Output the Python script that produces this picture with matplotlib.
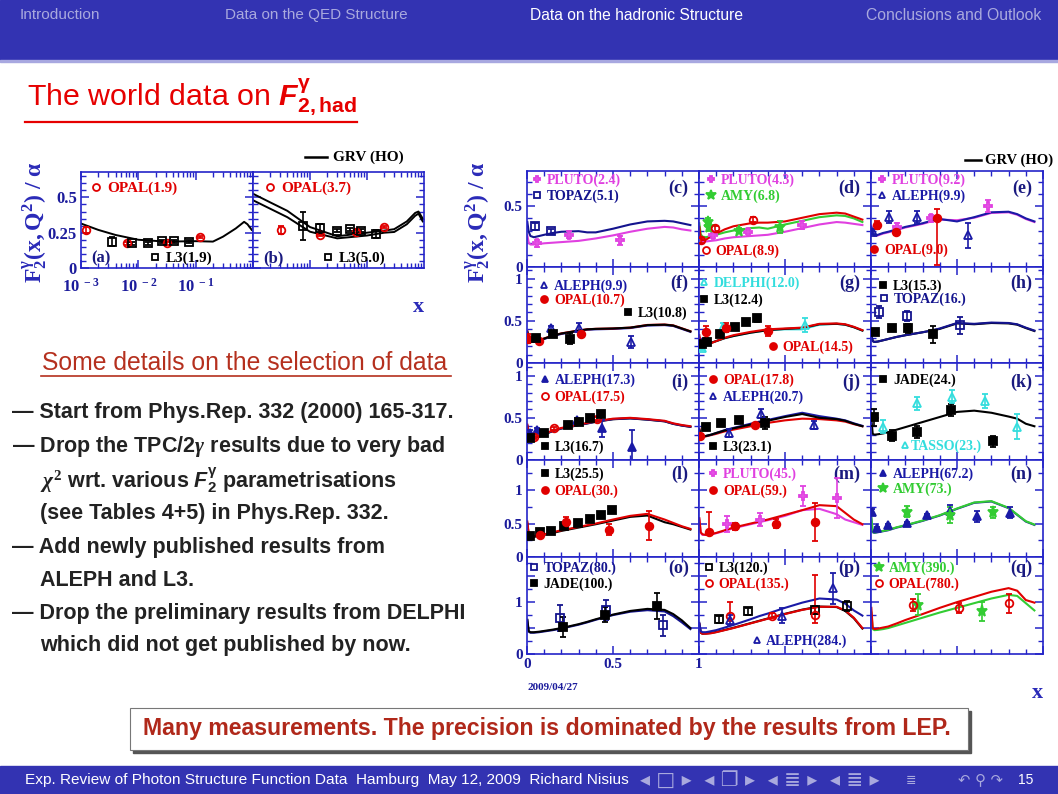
import matplotlib
matplotlib.use("Agg")
import matplotlib.pyplot as plt
from matplotlib.lines import Line2D
from matplotlib.legend import Legend
from matplotlib.patches import Rectangle
from matplotlib.ticker import FixedLocator, MultipleLocator, NullFormatter, FuncFormatter, LogLocator
from matplotlib import font_manager

# ====================== DATA ======================
# common x grid of the GRV(HO) curves (linear panels c..q)
XG = [0.002, 0.01, 0.02, 0.04, 0.07, 0.1, 0.15, 0.2, 0.3, 0.35, 0.4, 0.5, 0.6, 0.7, 0.8, 0.85, 0.9, 0.95]
# x grid of the GRV(HO) curves in the log panels a, b
XL = [0.001, 0.002, 0.004, 0.01, 0.03, 0.1, 0.2, 0.3, 0.5, 0.7, 0.8, 0.95]

A_GRV = [0.315, 0.27, 0.234, 0.20, 0.187, 0.19, 0.187, 0.222, 0.28, 0.327, 0.31, 0.27]
B_GRV_37 = [0.526, 0.465, 0.405, 0.29, 0.225, 0.25, 0.265, 0.275, 0.33, 0.39, 0.40, 0.35]
B_GRV_50 = [0.48, 0.42, 0.36, 0.257, 0.21, 0.23, 0.25, 0.255, 0.31, 0.37, 0.385, 0.33]

C_PLUTO_GRV = [0.26, 0.2, 0.185, 0.185, 0.19, 0.195, 0.2, 0.205, 0.215, 0.225, 0.235, 0.26, 0.29, 0.315, 0.33, 0.325, 0.31, 0.30]
C_TOPAZ_GRV = [0.37, 0.29, 0.255, 0.245, 0.255, 0.265, 0.28, 0.29, 0.295, 0.285, 0.285, 0.315, 0.35, 0.375, 0.38, 0.375, 0.36, 0.345]
D_PLUTO_GRV = [0.30, 0.23, 0.21, 0.21, 0.215, 0.22, 0.235, 0.245, 0.255, 0.26, 0.265, 0.29, 0.32, 0.35, 0.37, 0.365, 0.355, 0.345]
D_AMY_GRV = [0.36, 0.27, 0.25, 0.245, 0.255, 0.265, 0.285, 0.30, 0.32, 0.325, 0.315, 0.35, 0.38, 0.41, 0.425, 0.42, 0.40, 0.37]
D_OPAL_GRV = [0.33, 0.24, 0.22, 0.225, 0.25, 0.275, 0.31, 0.335, 0.36, 0.365, 0.365, 0.375, 0.405, 0.435, 0.447, 0.44, 0.415, 0.39]
E_PLUTO_GRV = [0.34, 0.27, 0.255, 0.26, 0.275, 0.285, 0.305, 0.325, 0.355, 0.375, 0.39, 0.385, 0.405, 0.445, 0.45, 0.43, 0.395, 0.37]
E_ALEPH_GRV = [0.33, 0.27, 0.26, 0.265, 0.28, 0.29, 0.31, 0.33, 0.36, 0.38, 0.395, 0.375, 0.41, 0.45, 0.455, 0.435, 0.40, 0.375]
F_ALEPH_GRV = [0.36, 0.275, 0.255, 0.25, 0.265, 0.285, 0.32, 0.345, 0.38, 0.395, 0.40, 0.405, 0.415, 0.445, 0.45, 0.44, 0.405, 0.37]
F_OPAL_GRV = [0.38, 0.285, 0.262, 0.258, 0.272, 0.292, 0.326, 0.352, 0.386, 0.40, 0.406, 0.41, 0.42, 0.452, 0.457, 0.447, 0.412, 0.377]
F_L3_GRV = [0.37, 0.28, 0.26, 0.255, 0.27, 0.29, 0.325, 0.35, 0.385, 0.40, 0.405, 0.41, 0.42, 0.45, 0.455, 0.445, 0.41, 0.375]
G_DELPHI_GRV = [0.30, 0.22, 0.21, 0.22, 0.24, 0.26, 0.295, 0.32, 0.36, 0.375, 0.39, 0.40, 0.40, 0.455, 0.465, 0.455, 0.425, 0.385]
G_L3_GRV = [0.30, 0.22, 0.21, 0.22, 0.24, 0.26, 0.295, 0.32, 0.36, 0.375, 0.39, 0.405, 0.415, 0.46, 0.465, 0.455, 0.425, 0.385]
G_OPAL_GRV = [0.33, 0.22, 0.20, 0.21, 0.235, 0.26, 0.30, 0.33, 0.37, 0.385, 0.40, 0.41, 0.42, 0.465, 0.47, 0.46, 0.43, 0.39]
H_L3_GRV = [0.33, 0.26, 0.25, 0.255, 0.27, 0.285, 0.31, 0.33, 0.365, 0.385, 0.405, 0.47, 0.46, 0.475, 0.47, 0.455, 0.415, 0.38]
H_TOPAZ_GRV = [0.33, 0.26, 0.25, 0.255, 0.27, 0.285, 0.31, 0.33, 0.365, 0.385, 0.41, 0.475, 0.465, 0.48, 0.475, 0.46, 0.42, 0.385]
I_L3_GRV = [0.40, 0.29, 0.262, 0.258, 0.278, 0.303, 0.343, 0.373, 0.413, 0.433, 0.453, 0.483, 0.493, 0.478, 0.458, 0.428, 0.408, 0.393]
I_ALEPH_GRV = [0.41, 0.295, 0.265, 0.26, 0.28, 0.305, 0.345, 0.375, 0.415, 0.435, 0.455, 0.485, 0.495, 0.48, 0.46, 0.43, 0.41, 0.395]
I_OPAL_GRV = [0.42, 0.30, 0.27, 0.265, 0.285, 0.31, 0.35, 0.38, 0.42, 0.44, 0.46, 0.49, 0.50, 0.485, 0.465, 0.435, 0.415, 0.40]
J_OPAL_GRV = [0.37, 0.29, 0.275, 0.28, 0.295, 0.31, 0.34, 0.36, 0.40, 0.42, 0.44, 0.47, 0.49, 0.485, 0.47, 0.455, 0.425, 0.40]
J_ALEPH_GRV = [0.35, 0.285, 0.275, 0.285, 0.30, 0.32, 0.355, 0.38, 0.43, 0.455, 0.475, 0.52, 0.56, 0.52, 0.49, 0.47, 0.435, 0.405]
J_L3_GRV = [0.36, 0.29, 0.28, 0.285, 0.30, 0.32, 0.35, 0.375, 0.42, 0.445, 0.465, 0.51, 0.545, 0.50, 0.485, 0.465, 0.43, 0.40]
K_JADE_GRV = [0.49, 0.31, 0.30, 0.305, 0.315, 0.33, 0.36, 0.39, 0.45, 0.48, 0.51, 0.57, 0.585, 0.56, 0.515, 0.49, 0.43, 0.40]
L_L3_GRV = [0.50, 0.33, 0.30, 0.30, 0.315, 0.33, 0.36, 0.39, 0.44, 0.465, 0.49, 0.545, 0.60, 0.62, 0.52, 0.49, 0.45, 0.41]
L_OPAL_GRV = [0.53, 0.34, 0.31, 0.31, 0.325, 0.34, 0.37, 0.40, 0.45, 0.475, 0.50, 0.56, 0.615, 0.645, 0.56, 0.51, 0.46, 0.42]
M_PLUTO_GRV = [0.56, 0.36, 0.33, 0.33, 0.34, 0.355, 0.39, 0.43, 0.49, 0.52, 0.55, 0.615, 0.70, 0.72, 0.64, 0.56, 0.52, 0.48]
M_OPAL_GRV = [0.58, 0.37, 0.34, 0.33, 0.34, 0.36, 0.40, 0.44, 0.50, 0.53, 0.56, 0.63, 0.70, 0.775, 0.76, 0.66, 0.56, 0.49]
N_ALEPH_GRV = [0.58, 0.37, 0.36, 0.37, 0.385, 0.40, 0.44, 0.47, 0.54, 0.58, 0.62, 0.72, 0.81, 0.83, 0.73, 0.63, 0.53, 0.48]
N_AMY_GRV = [0.585, 0.375, 0.365, 0.375, 0.39, 0.405, 0.445, 0.475, 0.545, 0.585, 0.625, 0.725, 0.815, 0.835, 0.735, 0.635, 0.535, 0.485]
O_TOPAZ_GRV = [0.65, 0.43, 0.41, 0.41, 0.42, 0.435, 0.46, 0.49, 0.565, 0.61, 0.66, 0.75, 0.815, 0.845, 0.82, 0.73, 0.61, 0.48]
O_JADE_GRV = [0.66, 0.44, 0.42, 0.42, 0.43, 0.445, 0.47, 0.50, 0.575, 0.62, 0.67, 0.76, 0.83, 0.87, 0.85, 0.77, 0.65, 0.50]
P_ALEPH_GRV = [0.60, 0.44, 0.42, 0.42, 0.44, 0.46, 0.51, 0.56, 0.67, 0.73, 0.78, 0.89, 0.99, 1.07, 1.05, 0.97, 0.84, 0.74]
P_L3_GRV = [0.58, 0.41, 0.39, 0.395, 0.405, 0.425, 0.465, 0.505, 0.595, 0.64, 0.685, 0.775, 0.855, 0.915, 0.905, 0.83, 0.69, 0.49]
P_OPAL_GRV = [0.58, 0.41, 0.39, 0.39, 0.40, 0.42, 0.46, 0.50, 0.59, 0.635, 0.68, 0.77, 0.85, 0.91, 0.91, 0.84, 0.70, 0.50]
Q_AMY_GRV = [0.80, 0.48, 0.46, 0.465, 0.48, 0.50, 0.55, 0.60, 0.70, 0.75, 0.80, 0.89, 0.98, 1.07, 1.14, 1.12, 0.98, 0.84]
Q_OPAL_GRV = [0.89, 0.50, 0.48, 0.49, 0.51, 0.53, 0.59, 0.655, 0.77, 0.83, 0.89, 1.0, 1.10, 1.20, 1.27, 1.22, 1.04, 0.99]

# measurements: (x, F2/alpha, err_low, err_high)
A_OPAL = [(0.0012, 0.27, 0.02, 0.02), (0.0063, 0.175, 0.01, 0.01), (0.032, 0.175, 0.01, 0.01), (0.12, 0.22, 0.01, 0.01)]
A_L3 = [(0.0035, 0.187, 0.03, 0.03), (0.0077, 0.175, 0.01, 0.01), (0.015, 0.175, 0.01, 0.01), (0.026, 0.19, 0.01, 0.01), (0.042, 0.19, 0.01, 0.01), (0.076, 0.187, 0.01, 0.01)]
B_OPAL = [(0.0031, 0.27, 0.03, 0.03), (0.0147, 0.234, 0.01, 0.01), (0.065, 0.257, 0.01, 0.01), (0.2, 0.29, 0.01, 0.01)]
B_L3 = [(0.0075, 0.30, 0.1, 0.1), (0.0147, 0.28, 0.03, 0.03), (0.03, 0.265, 0.01, 0.01), (0.05, 0.273, 0.01, 0.01), (0.08, 0.265, 0.01, 0.01), (0.145, 0.24, 0.03, 0.03)]

C_PLUTO = [(0.06, 0.195, 0.03, 0.03), (0.242, 0.265, 0.03, 0.03), (0.543, 0.22, 0.035, 0.035)]
C_TOPAZ = [(0.045, 0.335, 0.03, 0.03), (0.14, 0.295, 0.02, 0.02)]
D_PLUTO = [(0.08, 0.26, 0.02, 0.02), (0.287, 0.29, 0.02, 0.02), (0.597, 0.345, 0.03, 0.03)]
D_AMY = [(0.054, 0.37, 0.03, 0.03), (0.06, 0.33, 0.03, 0.03), (0.23, 0.30, 0.02, 0.02), (0.47, 0.33, 0.05, 0.05)]
D_OPAL = [(0.01, 0.22, 0.02, 0.02), (0.093, 0.318, 0.02, 0.02), (0.316, 0.39, 0.02, 0.02)]
E_PLUTO = [(0.15, 0.33, 0.03, 0.03), (0.35, 0.40, 0.03, 0.03), (0.68, 0.50, 0.05, 0.05)]
E_ALEPH = [(0.014, 0.29, 0.02, 0.02), (0.107, 0.41, 0.05, 0.05), (0.265, 0.41, 0.05, 0.05), (0.565, 0.26, 0.1, 0.1)]
E_OPAL = [(0.033, 0.345, 0.03, 0.03), (0.145, 0.29, 0.03, 0.03), (0.385, 0.40, 0.38, 0.08)]
F_ALEPH = [(0.14, 0.41, 0.03, 0.03), (0.30, 0.42, 0.05, 0.05), (0.603, 0.25, 0.07, 0.07)]
F_OPAL = [(0.008, 0.29, 0.05, 0.05), (0.067, 0.265, 0.02, 0.02), (0.315, 0.34, 0.02, 0.02)]
F_L3 = [(0.054, 0.30, 0.02, 0.02), (0.153, 0.35, 0.02, 0.02), (0.252, 0.29, 0.07, 0.07)]
G_DELPHI = [(0.015, 0.18, 0.03, 0.03), (0.14, 0.43, 0.04, 0.04), (0.616, 0.45, 0.08, 0.08)]
G_L3 = [(0.015, 0.23, 0.02, 0.02), (0.045, 0.25, 0.02, 0.02), (0.122, 0.35, 0.02, 0.02), (0.21, 0.43, 0.02, 0.02), (0.273, 0.49, 0.03, 0.03), (0.34, 0.53, 0.04, 0.04)]
G_OPAL = [(0.04, 0.37, 0.07, 0.07), (0.155, 0.42, 0.05, 0.05), (0.40, 0.38, 0.06, 0.06)]
H_L3 = [(0.023, 0.37, 0.02, 0.02), (0.12, 0.41, 0.02, 0.02), (0.217, 0.41, 0.05, 0.05), (0.36, 0.34, 0.1, 0.1)]
H_TOPAZ = [(0.048, 0.61, 0.07, 0.07), (0.207, 0.56, 0.06, 0.06), (0.517, 0.45, 0.1, 0.1)]
I_ALEPH = [(0.018, 0.32, 0.03, 0.03), (0.058, 0.356, 0.02, 0.02), (0.29, 0.47, 0.03, 0.03), (0.435, 0.375, 0.1, 0.1), (0.613, 0.16, 0.2, 0.2)]
I_OPAL = [(0.038, 0.27, 0.02, 0.02), (0.157, 0.375, 0.02, 0.02), (0.405, 0.49, 0.02, 0.02)]
I_L3 = [(0.018, 0.26, 0.02, 0.02), (0.1, 0.32, 0.02, 0.02), (0.236, 0.42, 0.02, 0.02), (0.305, 0.45, 0.02, 0.02), (0.365, 0.50, 0.02, 0.02), (0.43, 0.55, 0.03, 0.03)]
J_OPAL = [(0.006, 0.28, 0.02, 0.02), (0.326, 0.415, 0.02, 0.02)]
J_ALEPH = [(0.176, 0.32, 0.05, 0.05), (0.36, 0.55, 0.05, 0.05), (0.67, 0.415, 0.05, 0.05)]
J_L3 = [(0.039, 0.395, 0.03, 0.03), (0.13, 0.434, 0.03, 0.03), (0.234, 0.473, 0.03, 0.03), (0.384, 0.434, 0.07, 0.07)]
K_JADE = [(0.017, 0.505, 0.1, 0.1), (0.12, 0.29, 0.07, 0.07), (0.265, 0.336, 0.07, 0.07), (0.463, 0.59, 0.07, 0.07), (0.707, 0.22, 0.07, 0.07)]
K_TASSO = [(0.072, 0.395, 0.08, 0.08), (0.265, 0.67, 0.08, 0.08), (0.47, 0.75, 0.08, 0.08), (0.663, 0.70, 0.08, 0.08), (0.847, 0.395, 0.15, 0.15)]
L_L3 = [(0.018, 0.31, 0.02, 0.02), (0.077, 0.37, 0.02, 0.02), (0.137, 0.39, 0.02, 0.02), (0.216, 0.46, 0.02, 0.02), (0.296, 0.51, 0.02, 0.02), (0.365, 0.57, 0.02, 0.02), (0.43, 0.63, 0.03, 0.03), (0.494, 0.71, 0.04, 0.04)]
L_OPAL = [(0.077, 0.33, 0.03, 0.03), (0.226, 0.53, 0.07, 0.07), (0.478, 0.41, 0.08, 0.08), (0.708, 0.47, 0.22, 0.22)]
M_PLUTO = [(0.16, 0.50, 0.12, 0.12), (0.355, 0.56, 0.1, 0.1), (0.607, 0.91, 0.15, 0.15), (0.80, 0.88, 0.3, 0.3)]
M_OPAL = [(0.058, 0.38, 0.05, 0.30), (0.21, 0.46, 0.05, 0.05), (0.45, 0.50, 0.07, 0.07), (0.675, 0.52, 0.28, 0.28)]
N_ALEPH = [(0.005, 0.68, 0.04, 0.04), (0.033, 0.43, 0.02, 0.02), (0.10, 0.48, 0.02, 0.02), (0.207, 0.51, 0.02, 0.02), (0.324, 0.63, 0.02, 0.02), (0.46, 0.69, 0.08, 0.08), (0.614, 0.61, 0.08, 0.08), (0.81, 0.66, 0.08, 0.08)]
N_AMY = [(0.21, 0.68, 0.08, 0.08), (0.46, 0.63, 0.12, 0.12), (0.707, 0.67, 0.08, 0.08)]
O_TOPAZ = [(0.19, 0.69, 0.25, 0.25), (0.46, 0.85, 0.2, 0.2), (0.79, 0.55, 0.2, 0.2)]
O_JADE = [(0.21, 0.52, 0.2, 0.2), (0.455, 0.76, 0.15, 0.15), (0.757, 0.92, 0.25, 0.25)]
P_L3 = [(0.116, 0.67, 0.07, 0.07), (0.285, 0.82, 0.07, 0.07), (0.674, 0.85, 0.08, 0.08), (0.862, 0.92, 0.1, 0.1)]
P_OPAL = [(0.18, 0.73, 0.1, 0.27), (0.426, 0.74, 0.05, 0.05), (0.674, 0.76, 0.16, 0.77)]
P_ALEPH = [(0.18, 0.66, 0.1, 0.1), (0.48, 0.74, 0.15, 0.15), (0.78, 1.27, 0.3, 0.3)]
Q_AMY = [(0.275, 0.95, 0.2, 0.2), (0.643, 0.82, 0.18, 0.18)]
Q_OPAL = [(0.242, 0.94, 0.12, 0.12), (0.514, 0.89, 0.1, 0.1), (0.80, 0.98, 0.18, 0.18)]

# texts
NAV_ITEMS = ["Introduction", "Data on the QED Structure", "Data on the hadronic Structure", "Conclusions and Outlook"]
TITLE = r"The world data on $\mathcal{F}_{\mathsf{2,had}}^{\mathsf{\gamma}}$"
SECTION = "Some details on the selection of data"
BULLETS = ["— Start from Phys.Rep. 332 (2000) 165-317.",
           r"— Drop the TPC/2$\mathit{\gamma}$ results due to very bad",
           r"$\mathit{\chi}^{2}$ wrt. various $\mathcal{F}_{\mathsf{2}}^{\mathsf{\gamma}}$ parametrisations",
           "(see Tables 4+5) in Phys.Rep. 332.",
           "— Add newly published results from",
           "ALEPH and L3.",
           "— Drop the preliminary results from DELPHI",
           "which did not get published by now."]
BOX_TEXT = "Many measurements. The precision is dominated by the results from LEP."
FOOTER = "Exp. Review of Photon Structure Function Data  Hamburg  May 12, 2009  Richard Nisius"
PAGE = "15"
DATE = "2009/04/27"
YLABEL = r"$F_2^{\gamma}(x,Q^2)\ /\ \alpha$"

# ====================== STYLE / LAYOUT ======================
W, H = 1058, 794
NAVY = "#3333b2"
AXC = "#2424c8"
TICKC = "#1c1c9c"
COL = {"PLUTO": "#e040e0", "TOPAZ": "#14148e", "AMY": "#33cc33", "OPAL": "#e00000",
       "ALEPH": "#1a1aa6", "L3": "black", "DELPHI": "#33dddd", "JADE": "black", "TASSO": "#33dddd"}
MARK = {"PLUTO": "P", "TOPAZ": "s", "AMY": "*", "OPAL": "o", "ALEPH": "^", "L3": "s",
        "DELPHI": "^", "JADE": "s", "TASSO": "^"}


def has_font(name):
    try:
        font_manager.findfont(font_manager.FontProperties(family=name), fallback_to_default=False)
        return True
    except Exception:
        return False


SANS = "Liberation Sans"
NARROW = "Liberation Sans Narrow" if has_font("Liberation Sans Narrow") else SANS
SERIF = "Liberation Serif"

plt.rcParams.update({
    "font.family": SERIF, "font.weight": "bold",
    "mathtext.fontset": "custom",
    "mathtext.rm": "Liberation Serif:bold",
    "mathtext.bf": "Liberation Serif:bold",
    "mathtext.it": "Liberation Serif:italic:bold",
    "mathtext.sf": "Liberation Sans:bold",
    "mathtext.cal": "Liberation Sans:bold:italic",
    "mathtext.default": "rm",
    "axes.linewidth": 1.1,
})

fig = plt.figure(figsize=(W / 100, H / 100), dpi=100)
fig.patch.set_facecolor("white")
R = fig.canvas.get_renderer()


def fx(x):
    return x / W


def fy(y):
    return 1 - y / H


def ftext(x, y, s, width=None, **kw):
    t = fig.text(fx(x), fy(y), s, **kw)
    if width:
        bb = t.get_window_extent(R)
        t.set_fontsize(t.get_fontsize() * width / bb.width)
    return t


def rect(x0, y0, x1, y1, **kw):
    fig.add_artist(Rectangle((fx(x0), fy(y1)), (x1 - x0) / W, (y1 - y0) / H,
                             transform=fig.transFigure, **kw))


def add_ax(x0, y0, x1, y1):
    return fig.add_axes([fx(x0), fy(y1), (x1 - x0) / W, (y1 - y0) / H])


def style_axes(ax):
    for s in ax.spines.values():
        s.set_color(AXC)
        s.set_linewidth(1.2)
    ax.tick_params(which="both", direction="in", top=True, right=True, color=AXC,
                   labelcolor=TICKC, labelsize=10.5, pad=3)
    ax.tick_params(which="major", length=6, width=1.1)
    ax.tick_params(which="minor", length=3.5, width=1.0)


def draw_points(ax, exp, filled, pts, ms=5.5):
    xs = [p[0] for p in pts]
    ys = [p[1] for p in pts]
    el = [p[2] for p in pts]
    eh = [p[3] for p in pts]
    c = COL[exp]
    mfc = c if filled else "none"
    if exp == "PLUTO":
        mfc = "#f5a8f5"
    ax.errorbar(xs, ys, yerr=[el, eh], fmt=MARK[exp], color=c, mfc=mfc, mec=c,
                ms=ms * (1.5 if exp == "AMY" else 1.0), mew=1.3, elinewidth=1.2,
                capsize=2.5, capthick=1.2, zorder=4)


def add_entry(ax, text, exp, filled, mx, my, size=10, pad=0.35):
    c = COL[exp]
    mfc = c if filled else "none"
    if exp == "PLUTO":
        mfc = "#f5a8f5"
    h = Line2D([], [], ls="none", marker=MARK[exp], ms=5 * (1.5 if exp == "AMY" else 1.0),
               color=c, mfc=mfc, mec=c, mew=1.3)
    axw = ax.get_window_extent(R).width
    off = 0.35 * size * 100 / 72 / axw
    lg = Legend(ax, [h], [text], loc="center left", bbox_to_anchor=(mx - off, my),
                bbox_transform=ax.transAxes, frameon=False, handlelength=0.7,
                handletextpad=pad, borderpad=0, borderaxespad=0,
                prop=dict(family=SERIF, weight="bold", size=size), labelcolor=c)
    ax.add_artist(lg)


# ---------------- slide decoration ----------------
rect(0, 0, 1058, 60, color=NAVY, zorder=0)
rect(0, 60, 1058, 61.5, color="#a8a8e0", zorder=0)
rect(0, 766, 1058, 794, color=NAVY, zorder=0)

NAV_POS = [(20, 100), (225, 407), (530, 743), (866, 1040)]
for i, (s, (a, b)) in enumerate(zip(NAV_ITEMS, NAV_POS)):
    ftext(a, 15, s, width=b - a, family=NARROW, weight="normal", size=11,
          color="white" if i == 2 else "#a9a9de", ha="left", va="center")

ftext(27, 97, TITLE, width=330, family=SANS, weight="normal", size=20, color="#e60000",
      ha="left", va="center")
fig.add_artist(Line2D([fx(25), fx(357)], [fy(122), fy(122)], color="#e60000", lw=1.6))

ftext(42, 363, SECTION, width=408, family=SANS, weight="normal", size=15, color="#b5301e",
      ha="left", va="center")
fig.add_artist(Line2D([fx(41), fx(451)], [fy(376), fy(376)], color="#b5301e", lw=1.2))

BUL_POS = [(12, 412), (12, 446), (40, 480), (40, 514), (12, 547), (40, 580), (12, 613), (40, 645)]
t0 = ftext(BUL_POS[0][0], BUL_POS[0][1], BULLETS[0], width=443, family=SANS, weight="bold",
           size=15, color="#222222", ha="left", va="center")
bsize = t0.get_fontsize()
for s, (x, y) in zip(BULLETS[1:], BUL_POS[1:]):
    ftext(x, y, s, family=SANS, weight="bold", size=bsize, color="#222222", ha="left", va="center")

# message box
rect(133, 711, 971, 753, color="#555555", zorder=1)
rect(130, 708, 968, 750, facecolor="white", edgecolor="#777777", lw=0.8, zorder=2)
ftext(143, 729, BOX_TEXT, width=812, family=SANS, weight="bold", size=15, color="#b0281a",
      ha="left", va="center", zorder=3)

# footer
ftext(25, 780, FOOTER, width=605, family=NARROW, weight="normal", size=10, color="white",
      ha="left", va="center")
ftext(640, 780, "◂ □ ▸  ◂ ❐ ▸  ◂ ≣ ▸  ◂ ≣ ▸", width=240, family="DejaVu Sans", weight="normal",
      size=9, color="#a9a9de", ha="left", va="center")
ftext(906, 780, "≣", family="DejaVu Sans", weight="normal", size=9, color="#a9a9de", ha="left", va="center")
ftext(958, 780, "↶ ⚲ ↷", width=45, family=["DejaVu Sans", "Noto Sans"], weight="normal", size=9,
      color="#a9a9de", ha="left", va="center")
ftext(1018, 780, PAGE, family=NARROW, weight="normal", size=10, color="white", ha="left", va="center")

# ---------------- left log panels (a), (b) ----------------
LPAN = [("(a)", 81, 253, [A_GRV], [("OPAL", False, A_OPAL), ("L3", False, A_L3)],
         [("OPAL(1.9)", "OPAL", False, 0.09, 0.83), ("L3(1.9)", "L3", False, 0.43, 0.10)]),
        ("(b)", 253, 424, [B_GRV_37, B_GRV_50], [("OPAL", False, B_OPAL), ("L3", False, B_L3)],
         [("OPAL(3.7)", "OPAL", False, 0.10, 0.83), ("L3(5.0)", "L3", False, 0.44, 0.10)])]
for k, (lab, x0, x1, crvs, pts, legs) in enumerate(LPAN):
    ax = add_ax(x0, 172, x1, 268)
    ax.set_xscale("log")
    ax.set_xlim(1e-3, 1.0)
    ax.set_ylim(0, 0.68)
    for cv in crvs:
        ax.plot(XL, cv, color="black", lw=1.4, zorder=2)
    for exp, filled, p in pts:
        draw_points(ax, exp, filled, p, ms=5.5)
    style_axes(ax)
    ax.xaxis.set_major_locator(FixedLocator([1e-3, 1e-2, 1e-1]))
    ax.xaxis.set_minor_locator(LogLocator(base=10, subs=range(2, 10)))
    ax.xaxis.set_minor_formatter(NullFormatter())
    ax.yaxis.set_major_locator(FixedLocator([0, 0.25, 0.5]))
    ax.yaxis.set_minor_locator(MultipleLocator(0.05))
    if k == 0:
        ax.yaxis.set_major_formatter(FuncFormatter(lambda v, p: {0: "0", 0.25: "0.25", 0.5: "0.5"}.get(round(v, 2), "")))
        ax.xaxis.set_major_formatter(FuncFormatter(
            lambda v, p: {1e-3: r"$10^{\ -3}$", 1e-2: r"$10^{\ -2}$", 1e-1: r"$10^{\ -1}$"}.get(v, "")))
        ax.tick_params(axis="both", labelsize=12)
        ax.tick_params(axis="x", pad=7)
    else:
        ax.set_yticklabels([])
        ax.set_xticklabels([])
    for t, e, f, mx, my in legs:
        add_entry(ax, t, e, f, mx, my, size=11)
    ax.text(0.06, 0.10, lab, transform=ax.transAxes, color="#1a1a80", fontsize=12,
            ha="left", va="center")

ftext(35, 222, YLABEL, family=SERIF, size=17, color="#2a2ab8", rotation=90, ha="center", va="center")
ftext(418, 307, "x", family=SERIF, size=16, color="#2a2ab8", ha="center", va="center")
fig.add_artist(Line2D([fx(305), fx(327)], [fy(157), fy(157)], color="black", lw=1.8))
ftext(333, 157, "GRV (HO)", family=SERIF, size=11, color="black", ha="left", va="center")

# ---------------- right grid (c)..(q) ----------------
COLS = [527, 699, 871, 1043]
ROWS = [171, 267, 363, 460, 557, 654]
ROW_YMAX = [0.79, 1.14, 1.15, 1.45, 1.87]
ROW_YLAB = [[0, 0.5], [0, 0.5, 1], [0, 0.5, 1], [0, 0.5, 1], [0, 1]]
ROW_MINOR = [0.1, 0.1, 0.1, 0.25, 0.25]
ROW_LABY = [0.82, 0.83, 0.80, 0.85, 0.887]

PANELS = [
    ("c", 0, 0, [("PLUTO", C_PLUTO_GRV), ("TOPAZ", C_TOPAZ_GRV)],
     [("PLUTO", False, C_PLUTO), ("TOPAZ", False, C_TOPAZ)]),
    ("d", 0, 1, [("PLUTO", D_PLUTO_GRV), ("AMY", D_AMY_GRV), ("OPAL", D_OPAL_GRV)],
     [("PLUTO", False, D_PLUTO), ("AMY", True, D_AMY), ("OPAL", False, D_OPAL)]),
    ("e", 0, 2, [("PLUTO", E_PLUTO_GRV), ("ALEPH", E_ALEPH_GRV)],
     [("PLUTO", False, E_PLUTO), ("ALEPH", False, E_ALEPH), ("OPAL", True, E_OPAL)]),
    ("f", 1, 0, [("ALEPH", F_ALEPH_GRV), ("OPAL", F_OPAL_GRV), ("L3", F_L3_GRV)],
     [("ALEPH", False, F_ALEPH), ("OPAL", True, F_OPAL), ("L3", True, F_L3)]),
    ("g", 1, 1, [("DELPHI", G_DELPHI_GRV), ("L3", G_L3_GRV), ("OPAL", G_OPAL_GRV)],
     [("DELPHI", False, G_DELPHI), ("L3", True, G_L3), ("OPAL", True, G_OPAL)]),
    ("h", 1, 2, [("L3", H_L3_GRV), ("TOPAZ", H_TOPAZ_GRV)],
     [("L3", True, H_L3), ("TOPAZ", False, H_TOPAZ)]),
    ("i", 2, 0, [("L3", I_L3_GRV), ("ALEPH", I_ALEPH_GRV), ("OPAL", I_OPAL_GRV)],
     [("ALEPH", True, I_ALEPH), ("OPAL", False, I_OPAL), ("L3", True, I_L3)]),
    ("j", 2, 1, [("OPAL", J_OPAL_GRV), ("ALEPH", J_ALEPH_GRV), ("L3", J_L3_GRV)],
     [("OPAL", True, J_OPAL), ("ALEPH", False, J_ALEPH), ("L3", True, J_L3)]),
    ("k", 2, 2, [("JADE", K_JADE_GRV)],
     [("JADE", True, K_JADE), ("TASSO", False, K_TASSO)]),
    ("l", 3, 0, [("L3", L_L3_GRV), ("OPAL", L_OPAL_GRV)],
     [("L3", True, L_L3), ("OPAL", True, L_OPAL)]),
    ("m", 3, 1, [("PLUTO", M_PLUTO_GRV), ("OPAL", M_OPAL_GRV)],
     [("PLUTO", False, M_PLUTO), ("OPAL", True, M_OPAL)]),
    ("n", 3, 2, [("ALEPH", N_ALEPH_GRV), ("AMY", N_AMY_GRV)],
     [("ALEPH", True, N_ALEPH), ("AMY", True, N_AMY)]),
    ("o", 4, 0, [("TOPAZ", O_TOPAZ_GRV), ("JADE", O_JADE_GRV)],
     [("TOPAZ", False, O_TOPAZ), ("JADE", True, O_JADE)]),
    ("p", 4, 1, [("L3", P_L3_GRV), ("OPAL", P_OPAL_GRV), ("ALEPH", P_ALEPH_GRV)],
     [("L3", False, P_L3), ("OPAL", False, P_OPAL), ("ALEPH", False, P_ALEPH)]),
    ("q", 4, 2, [("AMY", Q_AMY_GRV), ("OPAL", Q_OPAL_GRV)],
     [("AMY", True, Q_AMY), ("OPAL", False, Q_OPAL)]),
]

LEG = {
    "c": [("PLUTO(2.4)", "PLUTO", False, 0.06, 0.905), ("TOPAZ(5.1)", "TOPAZ", False, 0.06, 0.733)],
    "d": [("PLUTO(4.3)", "PLUTO", False, 0.068, 0.905), ("AMY(6.8)", "AMY", True, 0.068, 0.733),
          ("OPAL(8.9)", "OPAL", False, 0.039, 0.16)],
    "e": [("PLUTO(9.2)", "PLUTO", False, 0.062, 0.905), ("ALEPH(9.9)", "ALEPH", False, 0.062, 0.733),
          ("OPAL(9.0)", "OPAL", True, 0.02, 0.175)],
    "f": [("ALEPH(9.9)", "ALEPH", False, 0.10, 0.795), ("OPAL(10.7)", "OPAL", True, 0.10, 0.656),
          ("L3(10.8)", "L3", True, 0.587, 0.517)],
    "g": [("DELPHI(12.0)", "DELPHI", False, 0.03, 0.83), ("L3(12.4)", "L3", True, 0.03, 0.656),
          ("OPAL(14.5)", "OPAL", True, 0.43, 0.16)],
    "h": [("L3(15.3)", "L3", True, 0.068, 0.795), ("TOPAZ(16.)", "TOPAZ", False, 0.075, 0.66)],
    "i": [("ALEPH(17.3)", "ALEPH", True, 0.105, 0.82), ("OPAL(17.5)", "OPAL", False, 0.105, 0.65),
          ("L3(16.7)", "L3", True, 0.105, 0.13)],
    "j": [("OPAL(17.8)", "OPAL", True, 0.083, 0.82), ("ALEPH(20.7)", "ALEPH", False, 0.083, 0.65),
          ("L3(23.1)", "L3", True, 0.083, 0.13)],
    "k": [("JADE(24.)", "JADE", True, 0.072, 0.82), ("TASSO(23.)", "TASSO", False, 0.198, 0.14)],
    "l": [("L3(25.5)", "L3", True, 0.105, 0.85), ("OPAL(30.)", "OPAL", True, 0.105, 0.68)],
    "m": [("PLUTO(45.)", "PLUTO", False, 0.083, 0.85), ("OPAL(59.)", "OPAL", True, 0.083, 0.68)],
    "n": [("ALEPH(67.2)", "ALEPH", True, 0.072, 0.85), ("AMY(73.)", "AMY", True, 0.072, 0.70)],
    "o": [("TOPAZ(80.)", "TOPAZ", False, 0.04, 0.887), ("JADE(100.)", "JADE", True, 0.04, 0.715)],
    "p": [("L3(120.)", "L3", False, 0.058, 0.887), ("OPAL(135.)", "OPAL", False, 0.058, 0.715),
          ("ALEPH(284.)", "ALEPH", False, 0.335, 0.13)],
    "q": [("AMY(390.)", "AMY", True, 0.047, 0.887), ("OPAL(780.)", "OPAL", False, 0.047, 0.715)],
}

for lab, r, c, crvs, pts in PANELS:
    ax = add_ax(COLS[c], ROWS[r], COLS[c + 1], ROWS[r + 1])
    ax.set_xlim(0, 1)
    ax.set_ylim(0, ROW_YMAX[r])
    for exp, cv in crvs:
        ax.plot(XG, cv, color=COL[exp], lw=1.5, zorder=2, solid_joinstyle="round")
    for exp, filled, p in pts:
        draw_points(ax, exp, filled, p)
    style_axes(ax)
    ax.xaxis.set_major_locator(FixedLocator([0, 0.5, 1]))
    ax.xaxis.set_minor_locator(MultipleLocator(0.1))
    ax.yaxis.set_major_locator(MultipleLocator(0.5))
    ax.yaxis.set_minor_locator(MultipleLocator(ROW_MINOR[r]))
    labs = ROW_YLAB[r]
    if c == 0:
        ax.yaxis.set_major_formatter(FuncFormatter(
            lambda v, p, labs=labs: (("%g" % v) if any(abs(v - l) < 1e-6 for l in labs) else "")))
    else:
        ax.yaxis.set_major_formatter(NullFormatter())
    if r == 4 and c == 0:
        ax.xaxis.set_major_formatter(FuncFormatter(lambda v, p: "%g" % v))
    else:
        ax.xaxis.set_major_formatter(NullFormatter())
    ax.tick_params(labelsize=11)
    for t, e, f, mx, my in LEG[lab]:
        add_entry(ax, t, e, f, mx, my, size=10, pad=0.05 if e == "TASSO" else 0.35)
    ax.text(0.94, ROW_LABY[r], "(%s)" % lab, transform=ax.transAxes, color="#1a1a80",
            fontsize=13, ha="right", va="center")

ftext(478, 222, YLABEL, family=SERIF, size=17, color="#2a2ab8", rotation=90, ha="center", va="center")
ftext(1037, 693, "x", family=SERIF, size=16, color="#2a2ab8", ha="center", va="center")
ftext(528, 688, DATE, family=SERIF, size=8, color="#1c1c9c", ha="left", va="center")
fig.add_artist(Line2D([fx(965), fx(981)], [fy(160), fy(160)], color="black", lw=1.8))
ftext(985, 160, "GRV (HO)", family=SERIF, size=10.5, color="black", ha="left", va="center")

fig.savefig("out.png", dpi=100)
